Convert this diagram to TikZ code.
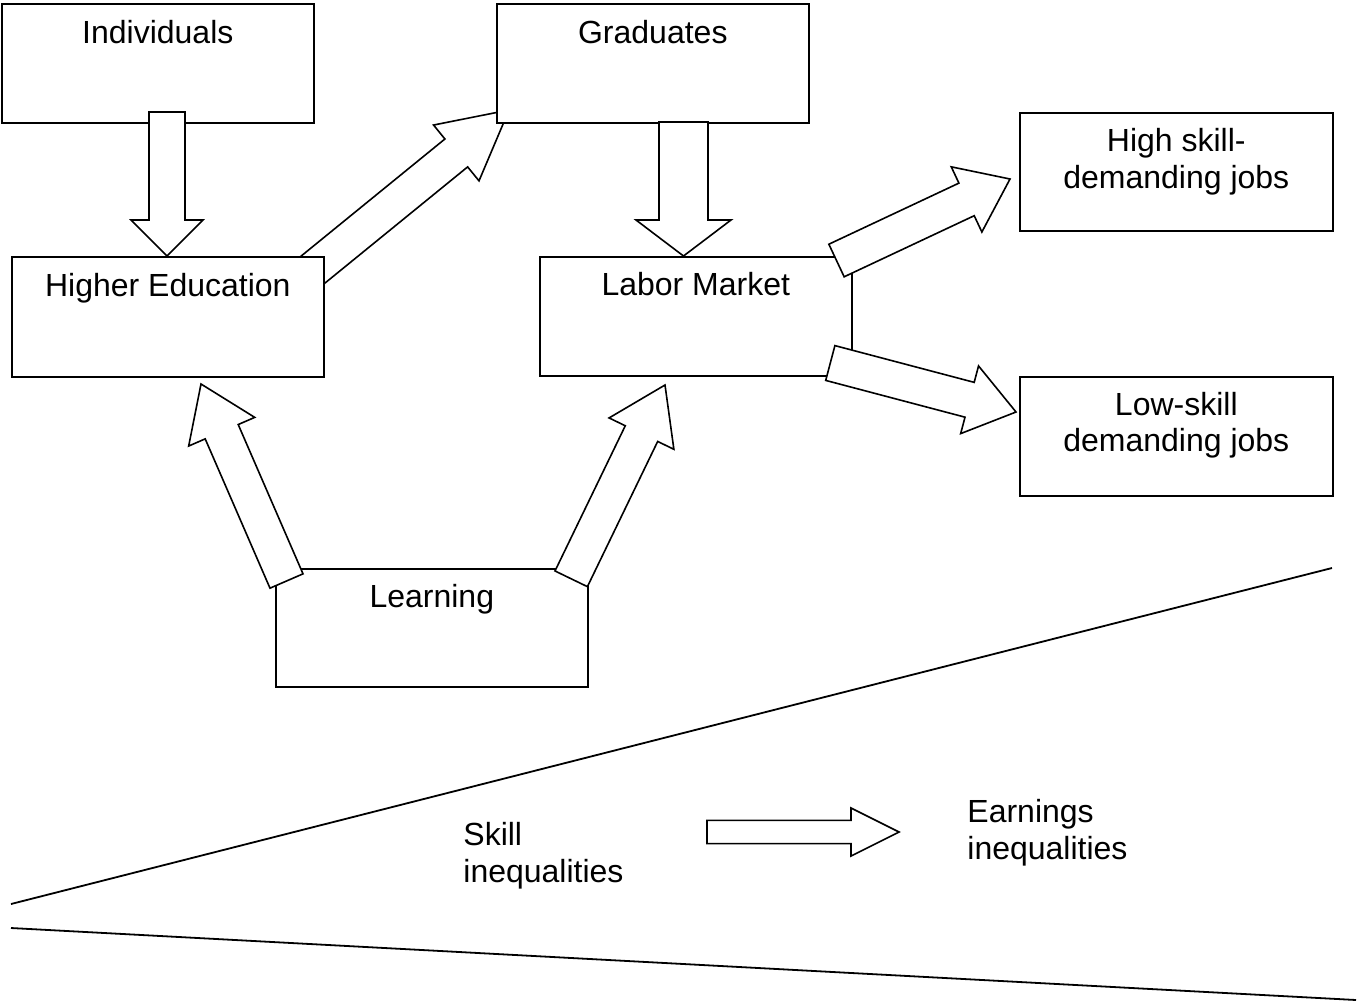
\documentclass[tikz,border=0pt]{standalone}
\usepackage{fontspec}
\setmainfont{Liberation Sans}
\usetikzlibrary{calc}
\pgfdeclarelayer{background}
\pgfsetlayers{background,main}
\tikzset{
  box/.style={draw, fill=white, line width=0.8pt, inner sep=0pt, anchor=north west},
  txt/.style={inner sep=0pt, align=center, anchor=base, font=\fontsize{16pt}{18.3pt}\selectfont},
  ltxt/.style={inner sep=0pt, align=left, anchor=base west, font=\fontsize{16pt}{18.3pt}\selectfont},
  barrow/.style={draw, fill=white, line width=0.8pt, line join=miter},
  rule/.style={line width=0.9pt}
}
\newcommand\blockarrow[6]{%
  \coordinate (#1-b) at ($(#3)!#6!(#2)$);
  \draw[barrow] ($(#2)!#4!90:(#3)$) -- ($(#1-b)!#4!90:(#3)$) -- ($(#1-b)!#5!90:(#3)$) -- (#3)
     -- ($(#1-b)!#5!-90:(#3)$) -- ($(#1-b)!#4!-90:(#3)$) -- ($(#2)!#4!-90:(#3)$) -- cycle;}
\begin{document}
\begin{tikzpicture}[x=0.5pt, y=-0.5pt]
\useasboundingbox (0,0) rectangle (1358,1002);
% boxes
\node[box, minimum width=156pt, minimum height=59.5pt] (ind) at (1,3) {};
\node[box, minimum width=156pt, minimum height=59.5pt] (grad) at (496,3) {};
\node[box, minimum width=156pt, minimum height=60pt] (he) at (11,256) {};
\node[box, minimum width=156pt, minimum height=59.5pt] (lm) at (539,256) {};
\node[box, minimum width=156.5pt, minimum height=59pt] (high) at (1019,112) {};
\node[box, minimum width=156.5pt, minimum height=59.5pt] (low) at (1019,376) {};
\node[box, minimum width=156pt, minimum height=59pt] (learn) at (275,568) {};
% box texts (multi-line nodes: base = last line)
\node[txt] (indT) at ([yshift=-20pt]ind.north) {Individuals};
\node[txt] (gradT) at ([yshift=-20pt]grad.north) {Graduates};
\node[txt] (heT) at ([yshift=-20pt]he.north) {Higher Education};
\node[txt] (lmT) at ([yshift=-19.5pt]lm.north) {Labor Market};
\node[txt] (highT) at ([yshift=-38.2pt]high.north) {High skill-\\demanding jobs};
\node[txt] (lowT) at ([yshift=-37.9pt]low.north) {Low-skill\\demanding jobs};
\node[txt] (learnT) at ([yshift=-19.5pt]learn.north) {Learning};
% bottom texts
\node[ltxt] (skill) at (463,882) {Skill\\inequalities};
\node[ltxt] (earn) at (967,859.5) {Earnings\\inequalities};
% arrow end points
\coordinate (a1s) at (167,112);   \coordinate (a1t) at (167,256);
\coordinate (a2s) at (683.5,122); \coordinate (a2t) at (683.5,256);
\coordinate (a3s) at (298.4,281.5); \coordinate (a3t) at (509,110);
\coordinate (a4s) at (836.5,260.5); \coordinate (a4t) at (1010,179);
\coordinate (a5s) at (830.3,363); \coordinate (a5t) at (1016,412);
\coordinate (a6s) at (286.5,581); \coordinate (a6t) at (201,384);
\coordinate (a7s) at (571.2,578.8); \coordinate (a7t) at (665,385);
\coordinate (a8s) at (707,832); \coordinate (a8t) at (899,832);
% arrow behind boxes
\begin{pgfonlayer}{background}
\blockarrow{a3}{a3s}{a3t}{9pt}{18pt}{34pt}
\end{pgfonlayer}
% arrows on top
\blockarrow{a1}{a1s}{a1t}{9pt}{18pt}{18pt}
\blockarrow{a2}{a2s}{a2t}{12.25pt}{23.75pt}{18pt}
\blockarrow{a4}{a4s}{a4t}{9pt}{18pt}{24pt}
\blockarrow{a5}{a5s}{a5t}{9pt}{17.5pt}{24pt}
\blockarrow{a6}{a6s}{a6t}{9pt}{18pt}{26pt}
\blockarrow{a7}{a7s}{a7t}{9pt}{18pt}{27pt}
\blockarrow{a8}{a8s}{a8t}{5.8pt}{12pt}{24pt}
% wedge lines
\coordinate (u1) at (11,904);  \coordinate (u2) at (1332,568);
\coordinate (l1) at (11,928);  \coordinate (l2) at (1356,1000);
\draw[rule] (u1) -- (u2);
\draw[rule] (l1) -- (l2);
\end{tikzpicture}
\end{document}
